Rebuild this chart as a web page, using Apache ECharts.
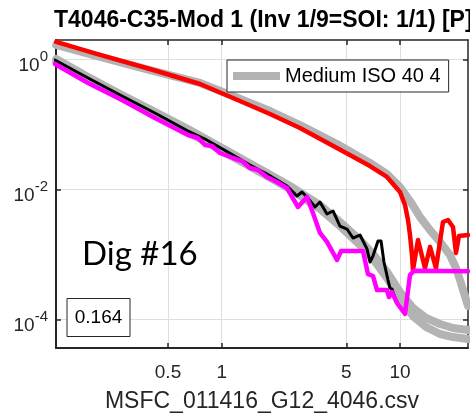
<!DOCTYPE html>
<html><head><meta charset="utf-8">
<script src="https://cdn.jsdelivr.net/npm/echarts@6/dist/echarts.min.js"></script>
<style>html,body{margin:0;padding:0;background:#fff}#c{width:470px;height:415px}</style>
</head><body><div id="c"></div>
<script>
// ---- data ----
const xTicks = [0.5, 1, 5, 10];
const yTicks = [1e-4, 1e-2, 1];
const xRange = [0.1177, 24.07];
const yRange = [3.62e-5, 1.98];

const redX = [0.118, 0.208, 0.396, 0.756, 1.157, 1.866, 2.749, 4.433, 6.788, 8.458, 10.0, 10.67, 11.09, 11.38, 11.68, 11.83, 12.62, 13.81, 14.74, 15.92, 17.42, 18.59, 19.83, 20.61, 21.42, 24.07];
const redY = [1.85, 1.17, 0.709, 0.417, 0.254, 0.144, 0.0877, 0.0432, 0.0228, 0.0155, 0.00909, 0.00573, 0.00337, 0.00198, 0.000975, 0.000573, 0.00166, 0.000615, 0.00130, 0.000615, 0.00314, 0.00337, 0.00263, 0.00105, 0.00191, 0.00198];

const isoUpX = [0.118, 0.208, 0.396, 0.756, 1.157, 1.866, 2.749, 4.433, 6.788, 8.458, 10.0, 11.38, 12.95, 14.74, 16.76, 19.07, 20.61, 21.70, 22.85, 24.07];
const isoUpY = [1.66, 1.085, 0.684, 0.432, 0.2725, 0.160, 0.0975, 0.0497, 0.0254, 0.0172, 0.01085, 0.00661, 0.00375, 0.00236, 0.00155, 0.000975, 0.000615, 0.000402, 0.000254, 0.000160];

const isoLoX = [0.118, 0.178, 0.276, 0.422, 0.647, 1.157, 1.795, 2.416, 3.558, 4.608, 5.967, 7.057, 8.458, 10.0, 11.83, 13.99, 16.76, 19.83, 24.07];
const isoLoAY = [1.01, 0.534, 0.282, 0.155, 0.0847, 0.0349, 0.0178, 0.01124, 0.00573, 0.00314, 0.00166, 0.00101, 0.000534, 0.000263, 0.000149, 0.000105, 0.0000847, 0.0000735, 0.0000684];
const isoLoBY = [0.909, 0.480, 0.254, 0.139, 0.0761, 0.0314, 0.0160, 0.0101, 0.00498, 0.00272, 0.00139, 0.000847, 0.000432, 0.000213, 0.000112, 0.0000761, 0.0000594, 0.0000534, 0.0000497];

const blackX = [0.116, 0.178, 0.276, 0.422, 0.647, 0.806, 1.157, 1.441, 1.795, 2.324, 2.644, 2.821, 3.009, 3.336, 3.558, 3.896, 4.210, 4.608, 5.044, 5.45, 5.967, 6.530, 6.788, 7.057, 7.53, 7.83, 8.13, 8.564, 8.788, 9.018, 9.374, 9.619];
const blackY = [0.9755, 0.516, 0.2725, 0.149, 0.0788, 0.0594, 0.0337, 0.0236, 0.0172, 0.01124, 0.00788, 0.00909, 0.00761, 0.00534, 0.00638, 0.00417, 0.00464, 0.00272, 0.00245, 0.00178, 0.00198, 0.00121, 0.000761, 0.000942, 0.00160, 0.00160, 0.000761, 0.000402, 0.000303, 0.000292, 0.000213, 0.000185];

const magX = [0.116, 0.178, 0.276, 0.422, 0.647, 0.736, 0.806, 0.882, 0.978, 1.157, 1.300, 1.441, 1.598, 1.795, 2.042, 2.324, 2.679, 3.009, 3.251, 3.558, 3.896, 4.433, 4.67, 6.203, 6.615, 7.057, 7.430, 8.458, 8.68, 9.018, 9.619, 10.67, 11.38, 11.98, 24.07];
const magY = [0.847, 0.432, 0.2365, 0.125, 0.0684, 0.0615, 0.0480, 0.0464, 0.0362, 0.0303, 0.0272, 0.0213, 0.0198, 0.01546, 0.01295, 0.01047, 0.00534, 0.00761, 0.00432, 0.00213, 0.00155, 0.000818, 0.00112, 0.00112, 0.000497, 0.000464, 0.000282, 0.000282, 0.000220, 0.000263, 0.000178, 0.000121, 0.000480, 0.00056, 0.00055];

const pair = (xs, ys) => xs.map((x, i) => [x, ys[i]]);

// ---- chart ----
const AX = '#262626';
const FONT = 'Liberation Sans, Arial, sans-serif';
const chart = echarts.init(document.getElementById('c'), null, {renderer: 'canvas'});

const yFmt = v => '{b|10}{s|' + Math.round(Math.log10(v)) + '}';

function xAxisCfg(pos) {
  const top = pos === 'top';
  return {
    type: 'log', logBase: 10, min: xRange[0], max: xRange[1], position: pos,
    axisLine: {show: true, onZero: false, lineStyle: {color: AX, width: top ? 1.5 : 2}},
    axisTick: {show: true, inside: true, length: 5, customValues: xTicks, lineStyle: {color: AX, width: 1.5}},
    axisLabel: top ? {show: false} : {show: true, customValues: xTicks, fontSize: 19, color: AX, margin: 15, fontFamily: FONT, formatter: v => String(v)},
    splitLine: {show: !top, lineStyle: {color: '#dedede', width: 1}},
    minorTick: {show: false}, minorSplitLine: {show: false},
    name: top ? '' : 'MSFC_011416_G12_4046.csv', nameLocation: 'middle', nameGap: 42,
    nameTextStyle: {fontSize: 23, color: AX, fontFamily: FONT}
  };
}
function yAxisCfg(pos) {
  const right = pos === 'right';
  return {
    type: 'log', logBase: 10, min: yRange[0], max: yRange[1], position: pos,
    axisLine: {show: true, onZero: false, lineStyle: {color: AX, width: right ? 1.5 : 2}},
    axisTick: {show: true, inside: true, length: 5, customValues: yTicks, lineStyle: {color: AX, width: 1.5}},
    axisLabel: right ? {show: false} : {
      show: true, customValues: yTicks, margin: 8, formatter: yFmt,
      rich: {
        b: {fontSize: 19, color: AX, fontFamily: FONT, lineHeight: 19, padding: [12, 0, 0, 0]},
        s: {fontSize: 15, color: AX, fontFamily: FONT, lineHeight: 15, padding: [0, 0, 4, 0]}
      }
    },
    splitLine: {show: !right, lineStyle: {color: '#dedede', width: 1}},
    minorTick: {show: false}, minorSplitLine: {show: false}
  };
}

const GRAY = '#b3b3b3';
const ISO = 'Medium ISO 40 4';
function lineSeries(name, data, color, width) {
  return {
    type: 'line', name: name, data: data, xAxisIndex: 0, yAxisIndex: 0,
    showSymbol: false, symbol: 'none', color: color, smooth: false,
    lineStyle: {color: color, width: width, join: 'round', cap: 'round'},
    emphasis: {disabled: true}, silent: true, clip: true, animation: false
  };
}

chart.setOption({
  animation: false,
  backgroundColor: '#fff',
  title: {
    text: 'T4046-C35-Mod 1 (Inv 1/9=SOI: 1/1) [P]', left: 49, top: 4,
    textStyle: {fontSize: 23, fontWeight: 'bold', color: '#000', fontFamily: FONT}
  },
  grid: {left: 56, right: 2, top: 40, bottom: 67, containLabel: false, outerBoundsMode: 'none'},
  xAxis: [xAxisCfg('bottom'), xAxisCfg('top')],
  yAxis: [yAxisCfg('left'), yAxisCfg('right')],
  legend: {
    show: true, data: [ISO], left: 227, top: 60, icon: 'rect', itemWidth: 47, itemHeight: 8,
    backgroundColor: '#fff', borderColor: AX, borderWidth: 1, borderRadius: 0,
    padding: [6, 8, 6, 6], selectedMode: false, z: 20,
    itemStyle: {color: GRAY},
    textStyle: {fontSize: 20, color: '#000', fontFamily: FONT}
  },
  series: [
    lineSeries(ISO, pair(isoUpX, isoUpY), GRAY, 8),
    lineSeries(ISO, pair(isoLoX, isoLoAY), GRAY, 8),
    lineSeries(ISO, pair(isoLoX, isoLoBY), GRAY, 8),
    lineSeries('Black', pair(blackX, blackY), '#000000', 3),
    lineSeries('Red', pair(redX, redY), '#ff0000', 4.5),
    lineSeries('Magenta', pair(magX, magY), '#ff00ff', 4.5)
  ],
  graphic: [
    {type: 'text', left: 82, top: 238, z: 100, style: {text: 'Dig #16', fontSize: 33, fontFamily: 'Lato, Carlito, sans-serif', fill: '#000'}},
    {type: 'rect', z: 100, shape: {x: 67, y: 298.5, width: 63, height: 38}, style: {fill: '#fff', stroke: AX, lineWidth: 1}},
    {type: 'text', z: 101, x: 98.5, y: 318, style: {text: '0.164', fontSize: 19, fontFamily: FONT, fill: '#000', align: 'center', verticalAlign: 'middle'}}
  ]
});
</script>
</body></html>
